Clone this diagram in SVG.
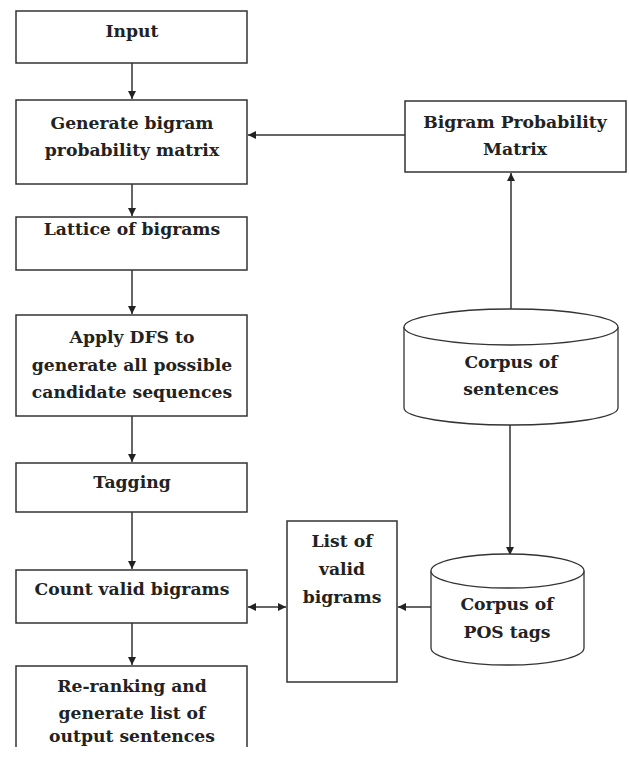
<svg xmlns="http://www.w3.org/2000/svg" width="629" height="757" viewBox="0 0 629 757">
<style>
.box{fill:#fff;stroke:#333;stroke-width:1.5}
.cyl{fill:#fff;stroke:#333;stroke-width:1.3}
.t{font-family:"DejaVu Serif","Liberation Serif",serif;font-weight:bold;font-size:17.2px;fill:#222;text-anchor:middle}
.ln{stroke:#333;stroke-width:1.5;fill:none}
</style>
<defs>
<marker id="ah" viewBox="0 0 10 10" refX="10" refY="5" markerWidth="8" markerHeight="8" markerUnits="userSpaceOnUse" orient="auto-start-reverse">
<path d="M0,0 L10,5 L0,10 z" fill="#222"/>
</marker>
</defs>
<rect width="629" height="757" fill="#fff"/>
<g id="connectors">
<line class="ln" x1="132" y1="63" x2="132" y2="99" marker-end="url(#ah)"/>
<line class="ln" x1="132" y1="184" x2="132" y2="216" marker-end="url(#ah)"/>
<line class="ln" x1="132" y1="270" x2="132" y2="314" marker-end="url(#ah)"/>
<line class="ln" x1="132" y1="416" x2="132" y2="462" marker-end="url(#ah)"/>
<line class="ln" x1="132" y1="512" x2="132" y2="569" marker-end="url(#ah)"/>
<line class="ln" x1="132" y1="623" x2="132" y2="665" marker-end="url(#ah)"/>
<line class="ln" x1="405" y1="135" x2="248" y2="135" marker-end="url(#ah)"/>
<line class="ln" x1="511" y1="309" x2="511" y2="173" marker-end="url(#ah)"/>
<line class="ln" x1="510" y1="425" x2="510" y2="555" marker-end="url(#ah)"/>
<line class="ln" x1="431" y1="607" x2="398" y2="607" marker-end="url(#ah)"/>
<line class="ln" x1="248" y1="607" x2="286" y2="607" marker-start="url(#ah)" marker-end="url(#ah)"/>
</g>
<g id="input">
<rect class="box" x="16" y="11" width="231" height="52"/>
<text class="t" x="132" y="37">Input</text>
</g>
<g id="generate">
<rect class="box" x="16" y="100" width="231" height="84"/>
<text class="t" x="132" y="129">Generate bigram</text>
<text class="t" x="132" y="156">probability matrix</text>
</g>
<g id="lattice">
<rect class="box" x="16" y="217" width="231" height="53"/>
<text class="t" x="132" y="235">Lattice of bigrams</text>
</g>
<g id="apply">
<rect class="box" x="16" y="315" width="231" height="101"/>
<text class="t" x="132" y="343">Apply DFS to</text>
<text class="t" x="132" y="371">generate all possible</text>
<text class="t" x="132" y="398">candidate sequences</text>
</g>
<g id="tagging">
<rect class="box" x="16" y="463" width="231" height="49"/>
<text class="t" x="132" y="488">Tagging</text>
</g>
<g id="count">
<rect class="box" x="16" y="570" width="231" height="53"/>
<text class="t" x="132" y="595">Count valid bigrams</text>
</g>
<g id="rerank">
<path class="box" d="M16,747 V666 H247 V747"/>
<text class="t" x="132" y="692">Re-ranking and</text>
<text class="t" x="132" y="719">generate list of</text>
<text class="t" x="132" y="742">output sentences</text>
</g>
<g id="bpm">
<rect class="box" x="405" y="101" width="221" height="71"/>
<text class="t" x="515" y="128">Bigram Probability</text>
<text class="t" x="515" y="155">Matrix</text>
</g>
<g id="corpus-sentences">
<path class="cyl" d="M404,327 V408 A107,17 0 0 0 618,408 V327"/>
<ellipse class="cyl" cx="511" cy="327" rx="107" ry="18"/>
<text class="t" x="511" y="368">Corpus of</text>
<text class="t" x="511" y="395">sentences</text>
</g>
<g id="corpus-pos">
<path class="cyl" d="M431,571 V648 A76.5,17 0 0 0 584,648 V571"/>
<ellipse class="cyl" cx="507.5" cy="571" rx="76.5" ry="17"/>
<text class="t" x="507" y="610">Corpus of</text>
<text class="t" x="507" y="638">POS tags</text>
</g>
<g id="valid-list">
<rect class="box" x="287" y="521" width="110" height="161"/>
<text class="t" x="342" y="547">List of</text>
<text class="t" x="342" y="575">valid</text>
<text class="t" x="342" y="603">bigrams</text>
</g>
</svg>
